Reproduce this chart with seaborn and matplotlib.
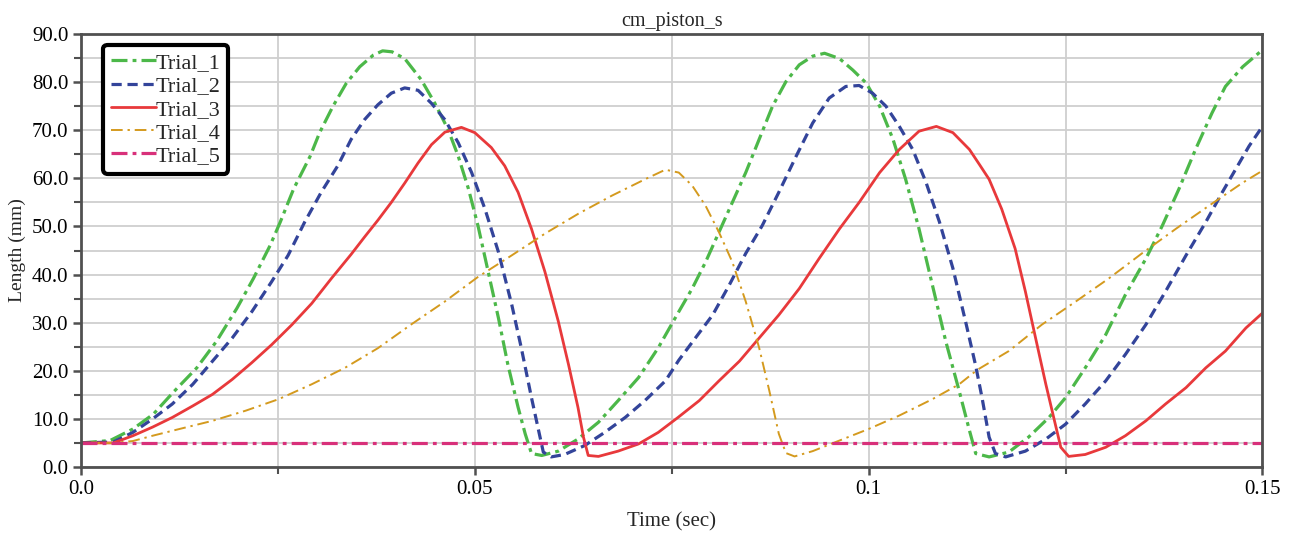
import matplotlib
matplotlib.use("Agg")
import matplotlib.pyplot as plt
import seaborn as sns
import pandas as pd
from matplotlib.ticker import MultipleLocator, FormatStrFormatter, FixedLocator, FixedFormatter

# ---------------- data ----------------
t1 = [0, 0.0037, 0.0066, 0.0092, 0.0117, 0.0147, 0.0172, 0.0198, 0.0219, 0.024, 0.0253, 0.027,
      0.0291, 0.0303, 0.032, 0.0337, 0.0354, 0.0371, 0.0383, 0.0395, 0.0411, 0.0432, 0.0449, 0.0466,
      0.0479, 0.0492, 0.0504, 0.0517, 0.053, 0.0542, 0.0555, 0.0564, 0.0572, 0.0585, 0.0606, 0.0631,
      0.0657, 0.0682, 0.0708, 0.0733, 0.0758, 0.0776, 0.0793, 0.081, 0.0827, 0.0844, 0.0861, 0.0878,
      0.0895, 0.0912, 0.0929, 0.0944, 0.0963, 0.098, 0.0997, 0.1014, 0.1031, 0.1047, 0.1064, 0.1081,
      0.1098, 0.1115, 0.1128, 0.1136, 0.1153, 0.1178, 0.1203, 0.1229, 0.125, 0.1275, 0.1301, 0.1326,
      0.1352, 0.1373, 0.1394, 0.1415, 0.1436, 0.1453, 0.1475, 0.15]
v1 = [5, 5.5, 7.9, 11, 15.5, 20.6, 26.1, 33, 39.2, 46, 50.9, 57.8,
      64.6, 69.5, 75, 79.8, 83.2, 85.6, 86.5, 86.3, 84.9, 80.5, 75.7, 70.2,
      64.6, 57.8, 50.2, 40.6, 31, 21.3, 12.4, 6.9, 2.8, 2.4, 3.3, 5.8,
      9.3, 13.8, 18.6, 24.8, 32, 37.1, 42.6, 48.8, 55, 61.2, 68.1, 75,
      80.1, 83.6, 85.4, 86, 84.9, 82.5, 79.8, 75, 68.1, 59.8, 49.5, 37.8,
      26.1, 15.8, 7.6, 2.8, 2.1, 3.1, 6.2, 10.3, 14.4, 20.6, 27.5, 35.8,
      43.3, 50.2, 57.8, 66, 73.6, 79.1, 83.2, 86.7]

t2 = [0, 0.0041, 0.0066, 0.0091, 0.0116, 0.0142, 0.0167, 0.0192, 0.0217, 0.0242, 0.0263, 0.0284,
      0.0305, 0.0326, 0.0343, 0.036, 0.0377, 0.0394, 0.0411, 0.0428, 0.0445, 0.0462, 0.0479, 0.0496,
      0.0513, 0.053, 0.0547, 0.0559, 0.0572, 0.0581, 0.0587, 0.0597, 0.0614, 0.064, 0.0665, 0.0691,
      0.0716, 0.0742, 0.0759, 0.078, 0.0802, 0.0823, 0.0844, 0.0865, 0.0886, 0.0908, 0.0929, 0.095,
      0.0971, 0.0988, 0.1005, 0.1022, 0.1039, 0.1056, 0.1073, 0.109, 0.1107, 0.1124, 0.1136, 0.1144,
      0.1153, 0.1161, 0.1174, 0.1199, 0.1225, 0.125, 0.1275, 0.1301, 0.1326, 0.1352, 0.1377, 0.1403,
      0.1428, 0.1449, 0.1466, 0.1483, 0.15]
v2 = [5, 5.2, 7.2, 10, 13.1, 17.2, 22, 26.8, 32.3, 38.5, 44, 50.9,
      57.1, 62.6, 68.1, 72.2, 75.3, 77.7, 78.8, 78.3, 75.6, 72.2, 67.4, 61.2,
      53.6, 44.7, 33.7, 24.8, 14.4, 7.6, 3.1, 2.1, 2.6, 4.5, 7.2, 10.3,
      13.8, 17.9, 22.2, 26.8, 31.6, 37.8, 44.4, 50.2, 57.1, 64.6, 71.5, 76.7,
      79.1, 79.3, 77.7, 75, 70.8, 66, 59.1, 50.9, 41.3, 29.6, 21, 14.4,
      6.2, 2.8, 2.1, 3.3, 5.8, 8.9, 13.1, 17.9, 23.4, 29.6, 36.5, 44,
      50.9, 57.1, 61.9, 66.7, 70.8]

t3 = [0, 0.0041, 0.0066, 0.0091, 0.0116, 0.0142, 0.0167, 0.0192, 0.0217, 0.0242, 0.0268, 0.0293,
      0.0318, 0.0343, 0.036, 0.0377, 0.0394, 0.0411, 0.0428, 0.0445, 0.0462, 0.0483, 0.05, 0.0521,
      0.0538, 0.0555, 0.0572, 0.0589, 0.0606, 0.0619, 0.0631, 0.0638, 0.0644, 0.0657, 0.0682, 0.0708,
      0.0733, 0.0758, 0.0785, 0.081, 0.0836, 0.0861, 0.0886, 0.0912, 0.0937, 0.0963, 0.0988, 0.1014,
      0.1039, 0.1064, 0.1086, 0.1107, 0.1128, 0.1141, 0.1153, 0.1169, 0.1186, 0.1199, 0.1212, 0.1225,
      0.1237, 0.1244, 0.1254, 0.1275, 0.1301, 0.1326, 0.1352, 0.1377, 0.1403, 0.1428, 0.1453, 0.1479,
      0.15]
v3 = [5, 5, 6.5, 8.3, 10.3, 12.7, 15.1, 18.2, 21.7, 25.4, 29.6, 34,
      39.2, 44.2, 47.8, 51.3, 55.0, 59.0, 63.2, 67.0, 69.6, 70.6, 69.5, 66.4,
      62.6, 57.1, 49.5, 40.6, 30.3, 21.3, 12.4, 6.2, 2.4, 2.2, 3.3, 4.8,
      7.2, 10.3, 13.8, 17.9, 22, 26.8, 31.6, 37.1, 43.3, 49.5, 55, 61.2,
      66, 69.8, 70.8, 69.5, 66, 62.8, 59.8, 53.6, 45.4, 36.5, 26.8, 17.2,
      8.9, 4.1, 2.2, 2.6, 4.1, 6.5, 9.6, 13.1, 16.5, 20.6, 24.1, 28.9,
      32]

t4 = [0, 0.0041, 0.0066, 0.0091, 0.0125, 0.0167, 0.0209, 0.0251, 0.0293, 0.0335, 0.0377, 0.0419,
      0.0462, 0.0504, 0.0547, 0.0589, 0.0631, 0.0674, 0.0716, 0.0742, 0.0759, 0.0776, 0.0793, 0.081,
      0.0827, 0.0844, 0.0861, 0.0874, 0.0886, 0.0895, 0.0906, 0.0929, 0.0963, 0.1, 0.1039, 0.1081,
      0.1115, 0.1138, 0.1178, 0.122, 0.1263, 0.1305, 0.1347, 0.139, 0.1432, 0.1475, 0.15]
v4 = [5, 5, 5.4, 6.5, 7.9, 9.6, 11.7, 14.1, 17.2, 20.6, 24.7, 29.6,
      34.4, 39.5, 44, 48.5, 52.6, 56.4, 59.8, 61.8, 61.2, 58.5, 54.3, 48.8,
      42.6, 34.4, 24.8, 15.8, 6.9, 2.9, 2.2, 3.3, 5.5, 7.9, 10.7, 14.1,
      17.2, 20.2, 24.1, 29.6, 34.4, 39.2, 44.4, 49.5, 54.3, 59.1, 61.6]

t5 = [0, 0.15]
v5 = [5, 5]

labels = ["Trial_1", "Trial_2", "Trial_3", "Trial_4", "Trial_5"]
x_ticks = [0.0, 0.05, 0.1, 0.15]
x_tick_labels = ["0.0", "0.05", "0.1", "0.15"]

# ---------------- styling ----------------
sns.set_theme(style="whitegrid")
plt.rcParams['font.family'] = ['Liberation Serif', 'DejaVu Serif']

fig = plt.figure(figsize=(12.89, 5.35), dpi=100)
ax = fig.add_axes([0.0628, 0.1271, 0.9166, 0.8093])

styles = [
    dict(color="#4cb849", lw=2.3, ls=(0, (5, 1.6, 1.2, 1.6))),
    dict(color="#33449a", lw=2.3, ls=(0, (3.2, 1.8))),
    dict(color="#e8393b", lw=2.0, ls="-"),
    dict(color="#d49a1e", lw=1.4, ls=(0, (6, 2.5, 1.2, 2.5))),
    dict(color="#d8307a", lw=2.3, ls=(0, (5, 1.6, 1.2, 1.6))),
]
series = [(t1, v1), (t2, v2), (t3, v3), (t4, v4), (t5, v5)]
for (tt, vv), lab, st in zip(series, labels, styles):
    df = pd.DataFrame({"Time": tt, "Length": vv})
    sns.lineplot(data=df, x="Time", y="Length", ax=ax, label=lab,
                 color=st["color"], linewidth=st["lw"], linestyle=st["ls"], sort=False)

ax.set_xlim(0, 0.15)
ax.set_ylim(0, 90)
ax.yaxis.set_major_locator(MultipleLocator(10))
ax.yaxis.set_minor_locator(MultipleLocator(5))
ax.yaxis.set_major_formatter(FormatStrFormatter("%.1f"))
ax.xaxis.set_major_locator(FixedLocator(x_ticks))
ax.xaxis.set_major_formatter(FixedFormatter(x_tick_labels))
ax.xaxis.set_minor_locator(MultipleLocator(0.025))

ax.grid(True, which="both", color="#cfcfcf", linewidth=1.3)
ax.set_axisbelow(True)
ax.set_facecolor("white")
for sp in ax.spines.values():
    sp.set_visible(True)
    sp.set_color("#505050")
    sp.set_linewidth(2.0)

ax.tick_params(axis="both", which="both", direction="out", color="#505050",
               labelsize=15, labelcolor="black", bottom=True, left=True)
ax.tick_params(axis="both", which="major", length=6, width=1.8, pad=3)
ax.tick_params(axis="both", which="minor", length=5, width=1.5)

ax.set_title("cm_piston_s", fontsize=14.5, pad=6)
ax.set_xlabel("Time (sec)", fontsize=15, labelpad=10)
ax.set_ylabel("Length (mm)", fontsize=14, labelpad=4)

leg = ax.legend(loc="upper left", bbox_to_anchor=(0.019, 0.975), borderaxespad=0,
                fontsize=16, handlelength=2.0, handletextpad=0.0, labelspacing=0.12,
                frameon=True, fancybox=True, borderpad=0.35)
leg.get_frame().set_edgecolor("black")
leg.get_frame().set_linewidth(3)
leg.get_frame().set_facecolor("white")
leg.get_frame().set_alpha(1)

fig.savefig("out.png", dpi=100)
